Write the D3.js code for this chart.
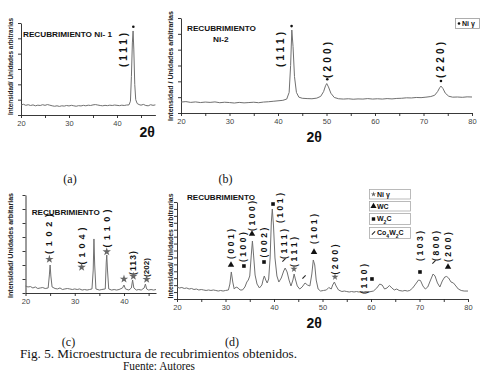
<!DOCTYPE html>
<html><head><meta charset="utf-8">
<script src="https://cdn.jsdelivr.net/npm/d3@7"></script>
<style>
body{margin:0;background:#fff;}
svg{display:block;}
text{font-family:"Liberation Sans",Arial,sans-serif;}
</style></head><body>
<svg id="c" width="484" height="373"></svg>
<script>
// ---------- DATA ----------
// (a) Ni-1
const thetaA = [20,20.5,21,21.5,22,22.5,23,23.5,24,24.5,25,25.5,26,26.5,27,27.5,28,28.5,29,29.5,30,30.5,31,31.5,32,32.5,33,33.5,34,34.5,35,35.5,36,36.5,37,37.5,38,38.5,39,39.5,40,40.5,41,41.5,42,42.5,42.8,43.0,43.2,43.35,43.5,43.7,43.9,44.2,44.6,45,45.5,46,46.5,47,47.5,48];
const intA   = [65,70,63,67,62,66,60,64,62,67,63,68,64,60,57,60,56,60,58,62,59,63,60,57,61,59,63,60,64,62,66,68,65,62,60,63,61,64,62,65,63,61,64,62,65,66,90,250,470,548,430,200,100,75,68,64,69,62,60,67,63,66];
const labelThetaA = [41.25];
const labelLevelA = [424];
const labelTextA  = ["(111)"];
const markThetaA  = [43.4];
const markLevelA  = [576];
const markTypeA   = ["dot"];

// (b) Ni-2
const thetaB = [20,21,22,23,24,25,26,27,28,29,30,31,32,33,34,35,36,37,38,39,40,41,41.8,42.3,42.6,42.85,43.1,43.4,43.8,44.3,45,46,47,48,48.8,49.4,49.8,50.05,50.4,50.9,51.6,52.5,53.5,54.5,55.5,56.5,57.5,58.5,59.5,60.5,61.5,62.5,63.5,64.5,65.5,66.5,67.5,68.5,69.5,70.5,71.5,72.3,72.9,73.35,73.6,74.0,74.5,75.2,76,77,78,79,80];
const intB   = [69,72,67,70,66,69,67,70,65,68,66,63,67,64,66,68,65,69,71,74,77,80,88,130,300,524,420,230,130,100,93,91,90,94,105,135,172,186,165,125,98,90,88,90,87,89,88,91,88,90,88,91,89,92,93,96,95,98,97,100,104,112,135,160,170,155,125,106,100,101,99,102,101];
const labelThetaB = [40.56,50.16,73.55];
const labelLevelB = [401,335,335];
const labelTextB  = ["(111)","(200)","(220)"];
const markThetaB  = [42.8,50.16,73.6];
const markLevelB  = [549,213,202];
const markTypeB   = ["dot","dot","dot"];
const legendB     = ["Ni γ"];

// (c)
const thetaC = [20,20.5,21,21.5,22,22.5,23,23.5,24,24.6,24.85,25.0,25.15,25.4,26,26.5,27,27.5,28,28.5,29,29.5,30,30.5,31,31.5,32,32.5,33,33.5,33.75,33.9,34.05,34.3,35,35.5,36.2,36.4,36.5,36.65,36.9,37.5,38,38.5,39,39.7,40.0,40.3,41,41.5,41.75,42.0,42.5,43,43.5,44.1,44.35,44.6,45,45.5,46,46.5];
const intC   = [50,43,46,36,43,32,36,39,32,36,129,200,121,43,32,29,36,25,29,32,29,25,29,25,29,21,25,21,25,29,164,386,200,29,21,25,29,221,271,164,29,21,25,21,25,36,57,29,21,36,93,36,21,25,21,36,64,29,21,25,21,25];
const labelThetaC = [24.83,31.5,36.6,41.8,44.5];
const labelLevelC = [421,336,461,214,182];
const labelTextC  = ["(102)","(104)","(110)","(113)","(202)"];
const markThetaC  = [24.85,31.4,36.5,40.0,41.9,44.6];
const markLevelC  = [241,184,295,100,120,98];
const markTypeC   = ["star","star","star","star","star","star"];

// (d)
const thetaD = [20,20.5,21,21.5,22,22.5,23,23.5,24,24.5,25,25.5,26,26.5,27,27.5,28,28.5,29,29.5,30,30.6,30.9,31.2,31.5,31.8,32.2,32.6,33.0,33.5,34.0,34.4,34.7,35.0,35.3,35.55,35.8,36.1,36.5,37.0,37.5,37.8,38.0,38.3,38.6,38.9,39.2,39.45,39.65,39.9,40.2,40.6,41.0,41.5,42.0,42.3,42.7,43.1,43.5,43.9,44.15,44.4,44.8,45.3,45.8,46.4,46.9,47.4,47.8,48.1,48.4,48.7,49.1,49.6,50.2,50.8,51.3,51.8,52.1,52.45,52.8,53.3,54,54.5,55,55.5,56,56.5,57,57.5,58,58.5,59,59.5,60,60.5,61.2,61.8,62.3,62.8,63.3,63.8,64.3,64.8,65.3,65.8,66.5,67,67.5,68,68.6,69.2,69.8,70.2,70.7,71.2,71.7,72.2,72.8,73.2,73.7,74.2,74.7,75.2,75.6,76.0,76.5,77.0,77.5,78.0,78.6,79.2,80];
const intD   = [173,159,166,152,159,144,152,137,144,130,137,130,123,130,123,130,123,115,123,115,123,130,216,390,245,144,173,159,130,130,173,245,274,332,621,837,621,346,216,159,202,289,332,274,231,289,592,1111,1299,1054,592,332,245,303,404,447,390,274,188,274,361,289,188,144,173,231,202,188,361,563,491,274,144,115,123,130,166,144,202,245,188,130,108,115,108,101,108,101,108,101,108,101,108,101,108,115,159,216,202,144,159,195,159,130,144,123,115,123,115,123,159,216,274,267,188,144,173,260,361,332,231,173,260,317,325,303,245,231,188,144,123,115,115];
const labelThetaD = [31.13,33.6,35.46,37.94,41.24,42.06,44.12,48.25,52.58,58.56,70.1,73.4,75.88];
const labelLevelD = [794,750,1198,815,1313,794,678,1010,570,289,765,765,750];
const labelTextD  = ["(001)","(100)","(100)","(002)","(101)","(111)","(111)","(101)","(200)","(110)","(103)","(800)","(200)"];
const markThetaD  = [31.13,33.8,35.46,37.94,39.8,42.06,44.12,46.19,48.25,52.58,60.2,70.1,72.99,75.88];
const markLevelD  = [491,476,938,534,1371,563,433,318,678,318,289,390,534,462];
const markTypeD   = ["tri","sq","tri","sq","sq","co","star","co","tri","star","sq","sq","co","tri"];
const legendD     = ["Ni γ","WC","W2C","Co4W2C"];
const legendTypeD = ["star","tri","sq","co"];

const panelLetters = ["(a)","(b)","(c)","(d)"];
const captionLines = ["Fig. 5. Microestructura de recubrimientos obtenidos.","Fuente: Autores"];

// ---------- DRAWING ----------
const svg = d3.select('#c');
const AX = '#222', LINE = '#707070';

function drawMark(g, type, cx, cy, s) {
  s = s || 1;
  if (type === 'dot') {
    g.append('circle').attr('cx', cx).attr('cy', cy).attr('r', 1.3).attr('fill', '#111');
  } else if (type === 'star') {
    g.append('path').attr('d', d3.symbol(d3.symbolStar, 10 * s)()).attr('transform', `translate(${cx},${cy})`).attr('fill', '#666');
  } else if (type === 'tri') {
    g.append('path').attr('d', d3.symbol(d3.symbolTriangle, 18 * s)()).attr('transform', `translate(${cx},${cy})`).attr('fill', '#111');
  } else if (type === 'sq') {
    g.append('path').attr('d', d3.symbol(d3.symbolSquare, 13 * s)()).attr('transform', `translate(${cx},${cy})`).attr('fill', '#111');
  } else if (type === 'co') {
    g.append('path').attr('d', `M${cx-1.6},${cy+1.6} L${cx+1.6},${cy-1.6}`).attr('stroke', '#222').attr('stroke-width', 1.1);
  }
}

function drawPanel(cfg) {
  const x = d3.scaleLinear().domain(cfg.xDomain).range(cfg.xRange);
  const y = d3.scaleLinear().domain(cfg.yDomain).range(cfg.yRange);
  const g = svg.append('g');
  const xa = g.append('g').attr('transform', `translate(0,${cfg.yRange[0]})`)
    .call(d3.axisBottom(x).tickValues(d3.range(cfg.xDomain[0], cfg.xDomain[1] + 0.01, 5))
      .tickSize(3).tickSizeOuter(0).tickFormat(d => d % 10 === 0 ? d : ''));
  const ya = g.append('g').attr('transform', `translate(${cfg.xRange[0]},0)`)
    .call(d3.axisLeft(y).tickValues(d3.range(0, cfg.yDomain[1] + 1, cfg.yStep))
      .tickSize(3).tickSizeOuter(0).tickFormat(''));
  [xa, ya].forEach(a => {
    a.selectAll('path,line').attr('stroke', AX).attr('stroke-width', 0.9);
    a.selectAll('text').attr('fill', '#444').style('font-size', '7.5px').style('font-family', '"Liberation Sans",Arial,sans-serif');
  });
  g.append('path').datum(d3.zip(cfg.theta, cfg.intensity))
    .attr('d', d3.line().x(d => x(d[0])).y(d => y(d[1])))
    .attr('fill', 'none').attr('stroke', LINE).attr('stroke-width', 1);
  cfg.labelText.forEach((t, i) => {
    g.append('text')
      .attr('transform', `translate(${x(cfg.labelTheta[i])},${y(cfg.labelLevel[i])}) rotate(-90)`)
      .attr('text-anchor', 'middle').attr('dy', '0.35em')
      .attr('textLength', cfg.labelLen[i]).attr('lengthAdjust', 'spacing')
      .style('font-size', cfg.labelFs[i] + 'px').style('font-weight', 'bold').attr('fill', '#111')
      .text(t);
  });
  cfg.markType.forEach((m, i) => drawMark(g, m, x(cfg.markTheta[i]), y(cfg.markLevel[i]), m === 'star' ? cfg.starScale : 1));
  g.append('text')
    .attr('transform', `translate(${cfg.yTitle[0]},${cfg.yTitle[1]}) rotate(-90)`)
    .attr('text-anchor', 'middle').attr('dy', '0.35em')
    .attr('textLength', cfg.yTitle[2]).attr('lengthAdjust', 'spacingAndGlyphs')
    .style('font-size', '7.5px').style('font-weight', 'bold').attr('fill', '#222')
    .text(cfg.yTitleText);
  cfg.titles.forEach(tt => {
    g.append('text').attr('x', tt[1]).attr('y', tt[2]).attr('dy', '0.35em')
      .attr('textLength', tt[3]).attr('lengthAdjust', 'spacingAndGlyphs')
      .style('font-size', '8px').style('font-weight', 'bold').attr('fill', '#111').text(tt[0]);
  });
  if (cfg.twoTheta) {
    g.append('text').attr('x', cfg.twoTheta[0]).attr('y', cfg.twoTheta[1]).attr('dy', '0.35em')
      .style('font-size', '14px').style('font-weight', 'bold').attr('fill', '#111').text('2θ');
  }
  return g;
}

drawPanel({
  xDomain: [20, 48], xRange: [21, 155.4], yDomain: [0, 600], yRange: [115, 23], yStep: 100,
  theta: thetaA, intensity: intA,
  labelTheta: labelThetaA, labelLevel: labelLevelA, labelText: labelTextA, labelLen: [34], labelFs: [10],
  markTheta: markThetaA, markLevel: markLevelA, markType: markTypeA,
  yTitle: [10, 66.5, 97], yTitleText: 'Intensidad/ Unidades arbitrarias',
  titles: [['RECUBRIMIENTO Ni- 1', 23, 34.3, 89]],
  twoTheta: [139.5, 132]
});

const gB = drawPanel({
  xDomain: [20, 80], xRange: [181, 472], yDomain: [0, 600], yRange: [113, 18], yStep: 100,
  theta: thetaB, intensity: intB,
  labelTheta: labelThetaB, labelLevel: labelLevelB, labelText: labelTextB, labelLen: [35, 36, 36], labelFs: [10, 10, 10],
  markTheta: markThetaB, markLevel: markLevelB, markType: markTypeB,
  yTitle: [170, 66, 110], yTitleText: 'Intensidad / Unidades arbitrarias',
  titles: [['RECUBRIMIENTO', 187, 28.3, 69], ['Ni-2', 213, 39, 15.6]],
  twoTheta: [306.5, 136.7]
});
gB.append('rect').attr('x', 455.5).attr('y', 18.5).attr('width', 24).attr('height', 10)
  .attr('fill', '#fff').attr('stroke', '#999').attr('stroke-width', 0.8);
drawMark(gB, 'dot', 459, 23.5);
gB.append('text').attr('x', 462).attr('y', 23.5).attr('dy', '0.35em')
  .style('font-size', '7px').style('font-weight', 'bold').attr('fill', '#111').text(legendB[0]);

drawPanel({
  xDomain: [20, 46.5], xRange: [25.5, 156], yDomain: [0, 700], yRange: [293, 195], yStep: 100,
  theta: thetaC, intensity: intC,
  labelTheta: labelThetaC, labelLevel: labelLevelC, labelText: labelTextC, labelLen: [40, 37, 38, 24, 19], labelFs: [9, 9, 9, 8.5, 8],
  markTheta: markThetaC, markLevel: markLevelC, markType: markTypeC, starScale: 2.2,
  yTitle: [10, 245.5, 105], yTitleText: 'Intensidad/ Unidades arbitarias',
  titles: [['RECUBRIMIENTO', 31.7, 211.7, 68]],
  twoTheta: null
});

const gD = drawPanel({
  xDomain: [20, 80], xRange: [177, 468], yDomain: [0, 1400], yRange: [299, 202], yStep: 100,
  theta: thetaD, intensity: intD,
  labelTheta: labelThetaD, labelLevel: labelLevelD, labelText: labelTextD,
  labelLen: labelTextD.map(() => 30), labelFs: labelTextD.map(() => 8.5),
  markTheta: markThetaD, markLevel: markLevelD, markType: markTypeD, starScale: 1.5,
  yTitle: [170, 246, 105], yTitleText: 'Intensidad/ Unidades arbitrarias',
  titles: [['RECUBRIMIENTO', 187, 196.7, 68]],
  twoTheta: [306.5, 323.3]
});
const legTops = [189, 201, 213, 227], legH = [9.5, 9.5, 11, 11];
legendD.forEach((name, i) => {
  gD.append('rect').attr('x', 369.5).attr('y', legTops[i] + 0.5).attr('width', 41).attr('height', legH[i])
    .attr('fill', '#fff').attr('stroke', '#aaa').attr('stroke-width', 0.8);
  const cy = legTops[i] + 0.5 + legH[i] / 2;
  drawMark(gD, legendTypeD[i], 373.5, cy, 0.9);
  const t = gD.append('text').attr('x', 377).attr('y', cy).attr('dy', '0.35em')
    .style('font-size', '7px').style('font-weight', 'bold').attr('fill', '#111');
  name.split(/(\d)/).filter(s => s.length).forEach(part => {
    if (/\d/.test(part)) {
      t.append('tspan').attr('baseline-shift', 'sub').style('font-size', '5px').text(part);
    } else {
      t.append('tspan').text(part);
    }
  });
});

const letterPos = [[70, 178.5], [225.5, 178.5], [68.5, 342], [232, 342]];
panelLetters.forEach((l, i) => {
  svg.append('text').attr('x', letterPos[i][0]).attr('y', letterPos[i][1]).attr('dy', '0.35em')
    .attr('text-anchor', 'middle').style('font-family', '"Liberation Serif","Times New Roman",serif')
    .style('font-size', '12px').attr('fill', '#111').text(l);
});
svg.append('text').attr('x', 20).attr('y', 354).attr('dy', '0.35em')
  .attr('textLength', 277).attr('lengthAdjust', 'spacingAndGlyphs')
  .style('font-family', '"Liberation Serif","Times New Roman",serif').style('font-size', '11.5px')
  .attr('fill', '#111').text(captionLines[0]);
svg.append('text').attr('x', 123).attr('y', 366).attr('dy', '0.35em')
  .attr('textLength', 72).attr('lengthAdjust', 'spacingAndGlyphs')
  .style('font-family', '"Liberation Serif","Times New Roman",serif').style('font-size', '11.5px')
  .attr('fill', '#111').text(captionLines[1]);
</script>
</body></html>
